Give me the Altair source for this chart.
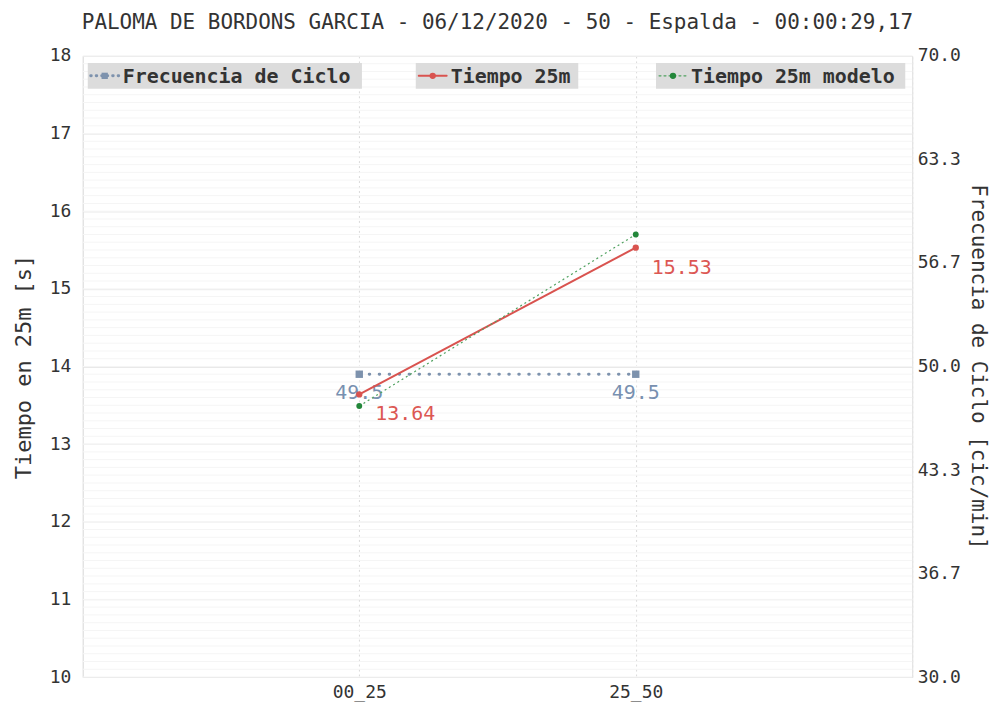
import altair as alt
import pandas as pd

# ---------------- data ----------------
tramos = ["00_25", "25_50"]
tiempo_25m = [13.64, 15.53]
tiempo_modelo = [13.49, 15.70]
frecuencia = [49.5, 49.5]
left_ticks = [10, 11, 12, 13, 14, 15, 16, 17, 18]
right_ticks = [30.0, 36.67, 43.33, 50.0, 56.67, 63.33, 70.0]
minor_ticks = [round(10 + i * 0.1, 1) for i in range(81)]
series_names = ["Frecuencia de Ciclo", "Tiempo 25m", "Tiempo 25m modelo"]
title_text = "PALOMA DE BORDONS GARCIA - 06/12/2020 - 50 - Espalda - 00:00:29,17"

F = "DejaVu Sans Mono"
BLUE = "#7d92ad"
BLUE_T = "#7890b0"
RED = "#d9534f"
RED_T = "#dc5753"
GREEN = "#23873a"
GREEN_L = "#4fa15f"

df_red = pd.DataFrame({"tramo": tramos, "valor": tiempo_25m})
df_green = pd.DataFrame({"tramo": tramos, "valor": tiempo_modelo})
df_blue = pd.DataFrame({"tramo": tramos, "freq": frecuencia})
df_minor = pd.DataFrame({"valor": minor_ticks})

x_enc = alt.X(
    "tramo:N",
    scale=alt.Scale(type="point", padding=1, domain=tramos),
    axis=alt.Axis(
        title=None, grid=True, gridDash=[2, 3], gridColor="#dadada",
        labelFont=F, labelFontSize=18, labelColor="#333", labelAngle=0,
        ticks=False, domainColor="#e3e3e3", labelPadding=7,
    ),
)

left_scale = alt.Scale(domain=[10, 18], nice=False, zero=False)
right_scale = alt.Scale(domain=[30, 70], nice=False, zero=False)

left_axis = alt.Axis(
    values=left_ticks, title="Tiempo en 25m [s]", titleFont=F, titleFontSize=22,
    titleFontWeight="normal", titleColor="#333", labelFont=F, labelFontSize=18,
    labelColor="#333", grid=True, gridColor="#e8e8e8", domainColor="#e3e3e3",
    ticks=False, labelPadding=12, titlePadding=14, orient="left",
)
right_axis = alt.Axis(
    values=right_ticks, format=".1f", title="Frecuencia de Ciclo [cic/min]",
    titleFont=F, titleFontSize=21, titleFontWeight="normal", titleColor="#333",
    labelFont=F, labelFontSize=18, labelColor="#333", grid=False,
    domainColor="#e3e3e3", domainDash=[2, 3], ticks=False, labelPadding=5,
    titlePadding=7, orient="right",
)

# minor grid (own identical scale, no axis)
minor = alt.Chart(df_minor).mark_rule(color="#f5f5f5", strokeWidth=1).encode(
    y=alt.Y("valor:Q", scale=left_scale, axis=None)
)

# Frecuencia de ciclo (right axis)
y_blue = alt.Y("freq:Q", scale=right_scale, axis=right_axis)
blue_base = alt.Chart(df_blue).encode(x=x_enc, y=y_blue)
blue_line = blue_base.mark_line(color=BLUE, strokeWidth=3, strokeDash=[0.5, 9.5], strokeCap="round")
blue_pts = blue_base.mark_square(color=BLUE, size=55, opacity=1)
blue_txt = blue_base.mark_text(
    font=F, fontSize=20, color=BLUE_T, align="center", baseline="middle", dy=19
).encode(text=alt.Text("freq:Q", format=".1f"))
blue_group = alt.layer(blue_line, blue_pts, blue_txt)

# Tiempo 25m and modelo (left axis)
y_left = alt.Y("valor:Q", scale=left_scale, axis=left_axis)
red_base = alt.Chart(df_red).encode(x=x_enc, y=y_left)
red_line = red_base.mark_line(color=RED, strokeWidth=2)
red_pts = red_base.mark_circle(color=RED, size=40, opacity=1)
red_txt = red_base.mark_text(
    font=F, fontSize=20, color=RED_T, align="left", baseline="middle", dx=16, dy=20
).encode(text=alt.Text("valor:Q", format=".2f"))
green_base = alt.Chart(df_green).encode(x=x_enc, y=y_left)
green_line = green_base.mark_line(color=GREEN_L, strokeWidth=1.2, strokeDash=[2, 3])
green_pts = green_base.mark_circle(color=GREEN, size=35, opacity=1)
time_group = alt.layer(red_line, red_pts, red_txt, green_line, green_pts)

# custom legend boxes at the top of the plot
legend_specs = [
    (series_names[0], 5, 280, BLUE, [0.5, 5], 3, "square", BLUE),
    (series_names[1], 334, 497, RED, [1, 0], 2, "circle", RED),
    (series_names[2], 575, 825, GREEN_L, [2, 3], 1.2, "circle", GREEN),
]
legend_layers = []
for name, x0, x1, col, dash, sw, shape, pcol in legend_specs:
    ld = pd.DataFrame({"name": [name]})
    base = alt.Chart(ld)
    legend_layers.append(
        base.mark_rect(color="#dcdcdc").encode(
            x=alt.value(x0), x2=alt.value(x1), y=alt.value(7), y2=alt.value(33)
        )
    )
    legend_layers.append(
        base.mark_rule(color=col, strokeWidth=sw, strokeDash=dash, strokeCap="round").encode(
            x=alt.value(x0 + 3), x2=alt.value(x0 + 31), y=alt.value(20)
        )
    )
    legend_layers.append(
        base.mark_point(shape=shape, filled=True, size=40, opacity=1, color=pcol).encode(
            x=alt.value(x0 + 17), y=alt.value(20)
        )
    )
    legend_layers.append(
        base.mark_text(font=F, fontSize=20, fontWeight="bold", color="#333",
                       align="left", baseline="middle").encode(
            x=alt.value(x0 + 35), y=alt.value(21), text="name:N"
        )
    )

chart = (
    alt.layer(minor, blue_group, time_group, *legend_layers)
    .resolve_scale(y="independent")
    .properties(
        width=832,
        height=623,
        title=alt.TitleParams(
            text=title_text, font=F, fontSize=21, fontWeight="normal",
            color="#333", anchor="middle", frame="group", offset=14,
        ),
        autosize=alt.AutoSizeParams(type="none"),
        padding={"left": 75, "top": 47, "right": 80, "bottom": 25},
    )
    .configure_view(fill="#fbfbfb", stroke=None)
    .configure(background="white")
)

chart.save("out.html", embed_options={"renderer": "svg", "actions": False})
